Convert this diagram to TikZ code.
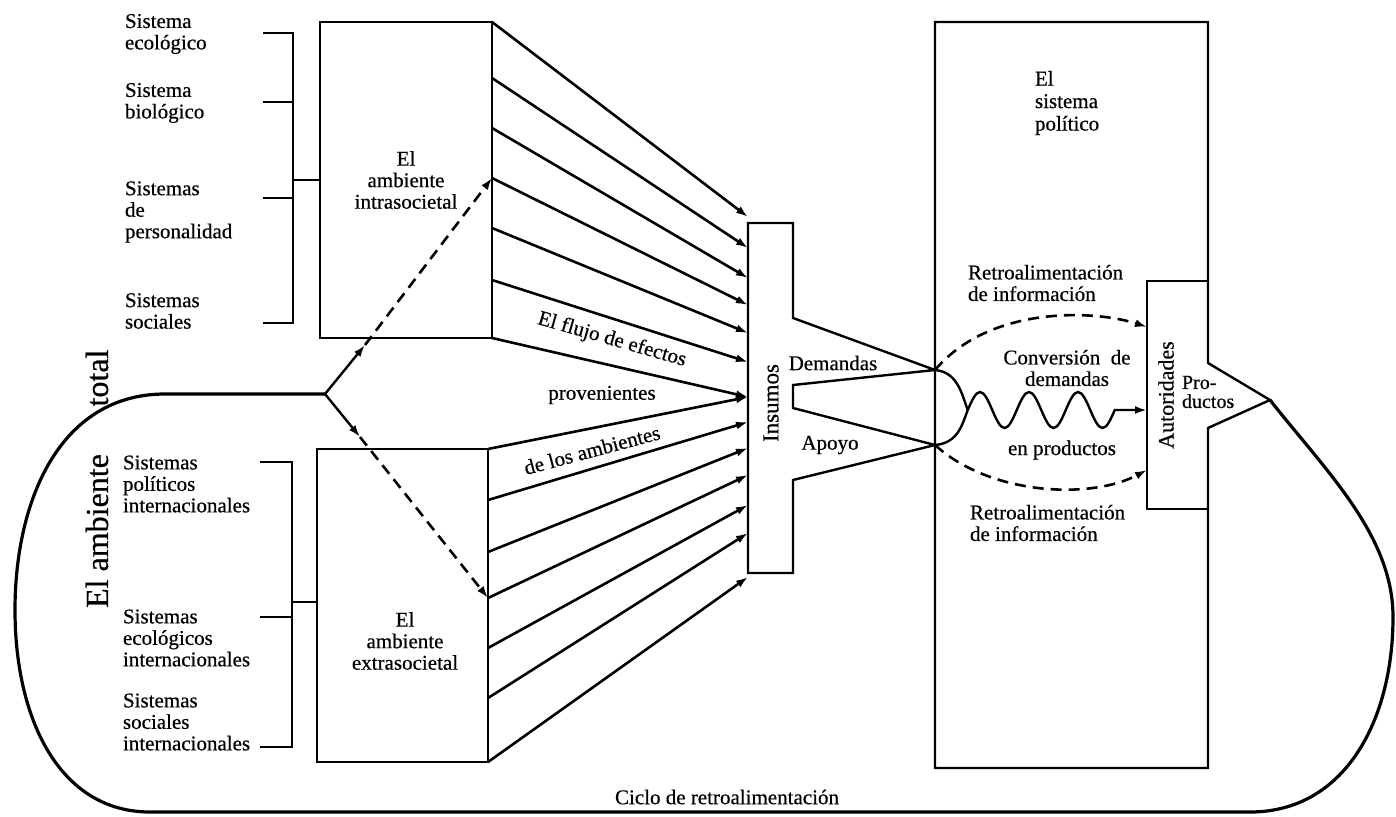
\documentclass[tikz,border=0pt]{standalone}
\usepackage{fontspec}
\setmainfont{Liberation Serif}[FakeBold=0.5]
\usetikzlibrary{arrows.meta,calc}
\begin{document}
\begin{tikzpicture}[x=1pt,y=-1pt,
  every node/.style={inner sep=0pt, outer sep=0pt},
  ln/.style={line width=2.4pt},
  boxframe/.style={draw, line width=2.4pt, inner sep=0pt, outer sep=0pt},
  ghost/.style={inner sep=0pt, outer sep=0pt},
  ahead/.style={-{Latex[length=12pt,width=8pt]}},
  fanline/.style={line width=2.6pt, ahead},
  dsh/.style={line width=2.6pt, dash pattern=on 11pt off 7pt},
  lbl/.style={font=\fontsize{21}{21.5}\selectfont, align=left, anchor=west},
  txt/.style={font=\fontsize{21}{21.5}\selectfont, align=center},
  loopline/.style={line width=3.2pt}]
\useasboundingbox (0,0) rectangle (1396,816);

% ---- boxes (ghost frames first) ----
\node[boxframe, minimum width=172, minimum height=316, font=\fontsize{21}{21.5}\selectfont, align=center] (intra) at (406,180) {El\\ambiente\\intrasocietal};
\node[boxframe, minimum width=171, minimum height=313] (extra) at (402.5,605.5) {};
\node[txt] (extraT) at (405,641) {El\\ambiente\\extrasocietal};
\node[ghost, minimum width=45, minimum height=350] (ins) at (770.5,398) {};
\node[ghost, minimum width=273, minimum height=746] (pol) at (1071.5,395) {};
\node[ghost, minimum width=61, minimum height=228] (aut) at (1177.5,395) {};

\coordinate (tipD) at (pol.west |- 0,370);
\coordinate (tipA) at (pol.west |- 0,445);
\coordinate (prodtip) at (1270,400);
\coordinate (br) at (325,394);
\coordinate (m1) at (365,345);
\coordinate (m2) at (360,437);
\coordinate (wj) at (967.75,410);

% ---- political system and authorities ----
\draw[ln] (pol.north west) -- (pol.north east) -- (pol.east |- 0,363) -- (prodtip)
  -- (pol.east |- 0,428) -- (pol.south east) -- (pol.south west) -- cycle;
\draw[ln] (aut.north east) -- (aut.north west) -- (aut.south west) -- (aut.south east);

% ---- insumos ----
\draw[ln] (ins.north west) -- (ins.north east) -- (ins.east |- 0,318) -- (tipD)
  -- (ins.east |- 0,385) -- (ins.east |- 0,408) -- (tipA) -- (ins.east |- 0,480)
  -- (ins.south east) -- (ins.south west) -- cycle;

% ---- brackets ----
\draw[ln] (263,33) -- (293,33) -- (293,323) -- (263,323);
\draw[ln] (263,102) -- (293,102);
\draw[ln] (263,198) -- (293,198);
\draw[ln] (293,180) -- (intra.west |- 0,180);
\draw[ln] (260,462) -- (292,462) -- (292,747) -- (260,747);
\draw[ln] (260,617) -- (292,617);
\draw[ln] (292,602) -- (extra.west |- 0,602);

% ---- labels left ----
\node[lbl] (sEco) at (125,34) {Sistema\\ecológico};
\node[lbl] (sBio) at (125,103) {Sistema\\biológico};
\node[lbl] (sPer) at (125,212) {Sistemas\\de\\personalidad};
\node[lbl] (sSoc) at (125,311) {Sistemas\\sociales};
\node[lbl] (sPolI) at (123,484) {Sistemas\\políticos\\internacionales};
\node[lbl] (sEcoI) at (123,638) {Sistemas\\ecológicos\\internacionales};
\node[lbl] (sSocI) at (123,722) {Sistemas\\sociales\\internacionales};
\node[txt, rotate=90, font=\fontsize{32}{32}\selectfont] (elamb) at (97,531) {El ambiente};
\node[txt, rotate=90, font=\fontsize{32}{32}\selectfont] (total) at (97,378) {total};

% ---- environment loop ----
\draw[loopline] (br) -- (165,394) .. controls (60,394) and (15,500) .. (15,610)
  .. controls (15,720) and (60,812) .. (150,812) -- (1250,812)
  .. controls (1345,812) and (1393,720) .. (1393,617)
  .. controls (1393,535) and (1325,470) .. (prodtip);
\draw[ln, ahead] (br) -- (m1);
\draw[dsh, ahead] (m1) -- (intra.east |- 0,178);
\draw[ln, ahead] (br) -- (m2);
\draw[dsh, ahead] (m2) -- (extra.east |- 0,598);

% ---- fan of effects ----
\foreach \a/\b in {22/217, 78/248, 128/278, 178/305, 228/333, 280/362, 338/397}
  \draw[fanline] (intra.east |- 0,\a) -- (ins.west |- 0,\b);
\foreach \a/\b in {449/397, 500/422, 552/448, 598/475, 648/505, 698/533, 762/577}
  \draw[fanline] (extra.east |- 0,\a) -- (ins.west |- 0,\b);

\node[txt, rotate=-16] (flujo) at (612,340) {El flujo de efectos};
\node[txt] (prov) at (602,395) {provenientes};
\node[txt, rotate=15] (delos) at (592,450) {de los ambientes};

% ---- insumos texts ----
\node[txt, rotate=90, font=\fontsize{23}{23}\selectfont] (insT) at (771,403) {Insumos};
\node[txt] (dem) at (833,363) {Demandas};
\node[txt] (apo) at (830,445) {Apoyo};

% ---- political system texts ----
\node[lbl, font=\fontsize{21}{22.5}\selectfont] (polT) at (1035,103) {El\\sistema\\político};
\node[lbl] (ret1) at (968,283) {Retroalimentación\\de información};
\node[lbl] (ret2) at (970,523) {Retroalimentación\\de información};
\node[txt] (conv) at (1067,368) {Conversión\ \ de\\demandas};
\node[txt] (enp) at (1062,450) {en productos};
\node[txt, rotate=90, font=\fontsize{22}{22}\selectfont] (autT) at (1166,395) {Autoridades};
\node[lbl, font=\fontsize{20}{19}\selectfont] (prodT) at (1182,392) {Pro-\\ductos};

% ---- conversion ----
\draw[dsh, ahead] (tipD) .. controls (990,305) and (1095,310) .. (aut.west |- 0,327);
\draw[dsh, ahead] (tipA) .. controls (990,495) and (1090,500) .. (aut.west |- 0,470);
\draw[ln] (tipD) .. controls (958,372) and (962,395) .. (wj);
\draw[ln] (tipA) .. controls (958,443) and (962,425) .. (wj);
\draw[ln, ahead] (wj) sin (980,392) cos (992.25,410) sin (1004.5,428) cos (1016.75,410)
  sin (1029,392) cos (1041.25,410) sin (1053.5,428) cos (1065.75,410)
  sin (1078,392) cos (1090.25,410) sin (1102.5,428) cos (1114.75,410)
  -- (aut.west |- 0,410);

\node[txt] (ciclo) at (727,797) {Ciclo de retroalimentación};
\end{tikzpicture}
\end{document}
